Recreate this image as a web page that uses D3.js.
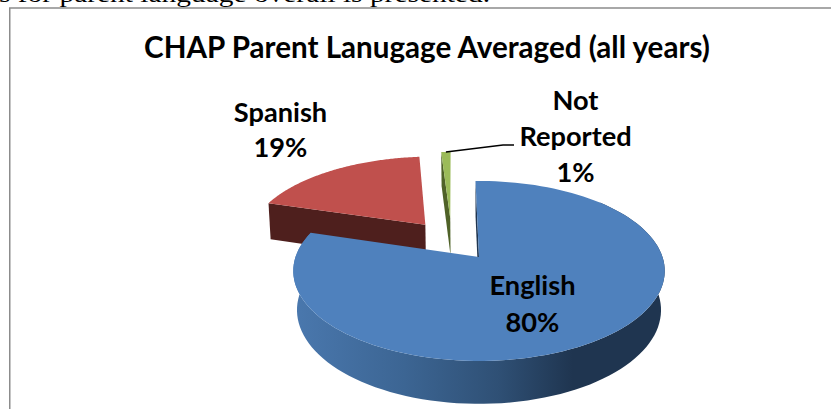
<!DOCTYPE html>
<html>
<head>
<meta charset="utf-8">
<script src="https://cdn.jsdelivr.net/npm/d3@7"></script>
<style>
html,body{margin:0;padding:0;background:#fff;overflow:hidden}
svg{display:block}
.lbl{font-family:Lato,"Open Sans",sans-serif;font-weight:700;fill:#000;text-anchor:middle}
</style>
</head>
<body>
<svg id="chart" width="831" height="409"></svg>
<script>
const categories = ["English", "Spanish", "Not Reported"];
const shares = [80, 19, 1];
const percentLabels = ["80%", "19%", "1%"];
const chartTitle = "CHAP Parent Lanugage Averaged (all years)";
const bodyLine = "s for parent language overall is presented.";

const W = 831, H = 409;
const svg = d3.select("#chart").attr("viewBox", `0 0 ${W} ${H}`);

// Perspective disc: apex position, radii, near-side magnification, wall height.
const view = {cx: 479, cy: 257, rx: 183.5, ry: 87.8, k: 0.155, depth: 38.5};
const project = (u, v) => {
  const w = 1 / (1 - view.k * v);
  return [view.cx + view.rx * u * w, view.cy + view.ry * v * w];
};

// Each slice is pulled out of the pie in disc units.
const pulled = [[0, 0], [-0.31, -0.39], [-0.168, -0.47]];
const faces = ["#4f81bd", "#c0504d", "#9bbb59"];
const walls = ["#1f3550", "#4e1f1d", "#4f6228"];

const pie = d3.pie().sort(null).value(d => d).startAngle(-0.022).endAngle(-0.022 + 2 * Math.PI);
const arcs = pie(shares);

const rimPoints = (a0, a1, off) => d3.range(0, 121).map(i => {
  const t = a0 + (a1 - a0) * i / 120;
  return project(off[0] + Math.sin(t), off[1] - Math.cos(t));
});
const path = d3.line().curve(d3.curveLinear);

// Wall bottoms sit lower and lean slightly toward the centre line.
const lowered = (pts, lean) => pts.map(([x, y]) => {
  const s = 1 + (y - view.cy) / 900;
  return [x - (x - view.cx) * lean, y + view.depth * s];
});

const defs = svg.append("defs");
const wallGrad = defs.append("linearGradient").attr("id", "wallBlue")
  .attr("gradientUnits", "userSpaceOnUse").attr("x1", 293).attr("x2", 666).attr("y1", 0).attr("y2", 0);
[[0, "#4a78ae"], [0.3, "#3c6593"], [0.55, "#2f5075"], [0.75, "#1f3550"], [1, "#1f3550"]]
  .forEach(([o, c]) => wallGrad.append("stop").attr("offset", o).attr("stop-color", c));

// Page text and chart frame
svg.append("text").attr("x", -1).attr("y", 2)
  .attr("font-family", "Liberation Serif").attr("font-size", 24).attr("fill", "#000")
  .attr("textLength", 491).attr("lengthAdjust", "spacingAndGlyphs").text(bodyLine);
svg.append("path").attr("d", `M9.75 409V8H${W}`).attr("fill", "none").attr("stroke", "#8c8c8c").attr("stroke-width", 1.5);

svg.append("text").attr("class", "lbl").attr("x", 427).attr("y", 58).attr("font-size", 29.6).text(chartTitle);

// Spanish and Not Reported slices: cut face first, then the top surface
[1, 2].forEach(i => {
  const a = arcs[i], off = pulled[i];
  const rim = rimPoints(a.startAngle, a.endAngle, off);
  const apex = project(off[0], off[1]);
  const first = rim[0];
  const [lowFirst, lowApex] = lowered([first, apex], 0.01);
  svg.append("path").attr("fill", walls[i])
    .attr("d", path([first, lowFirst, lowApex, apex]) + "Z");
  svg.append("path").attr("fill", faces[i]).attr("d", path([apex, ...rim]) + "Z");
  if (i === 2) {
    svg.append("path").attr("fill", "none").attr("stroke", "#000").attr("stroke-width", 1.5)
      .attr("d", path([rim[60], [503, 145], [514, 145]]));
  }
});

// English slice with its rounded wall
{
  const a = arcs[0], off = pulled[0];
  const rim = rimPoints(a.startAngle, a.endAngle, off);
  const apex = project(off[0], off[1]);
  const lowerPts = lowered(rim, 0.02);
  const [lowFirst, lowApex] = lowered([rim[0], apex], 0.01);
  svg.append("path").attr("fill", walls[0])
    .attr("d", path([rim[0], lowFirst, lowApex, apex]) + "Z");
  svg.append("path").attr("fill", "url(#wallBlue)")
    .attr("d", path([...rim.slice(20), ...lowerPts.slice(20).reverse()]) + "Z");
  svg.append("path").attr("fill", faces[0]).attr("d", path([apex, ...rim]) + "Z");
}

// Data labels
const labelSize = 27.2;
const labels = [
  {i: 0, x: 532.5, y: [295, 331.5]},
  {i: 1, x: 280.5, y: [122, 157]},
  {i: 2, x: 575.5, y: [109.5, 146, 182]}
];
labels.forEach(({i, x, y}) => {
  const parts = i === 2 ? categories[i].split(" ") : [categories[i]];
  [...parts, percentLabels[i]].forEach((s, j) => {
    svg.append("text").attr("class", "lbl").attr("x", x).attr("y", y[j]).attr("font-size", labelSize).text(s);
  });
});
</script>
</body>
</html>
